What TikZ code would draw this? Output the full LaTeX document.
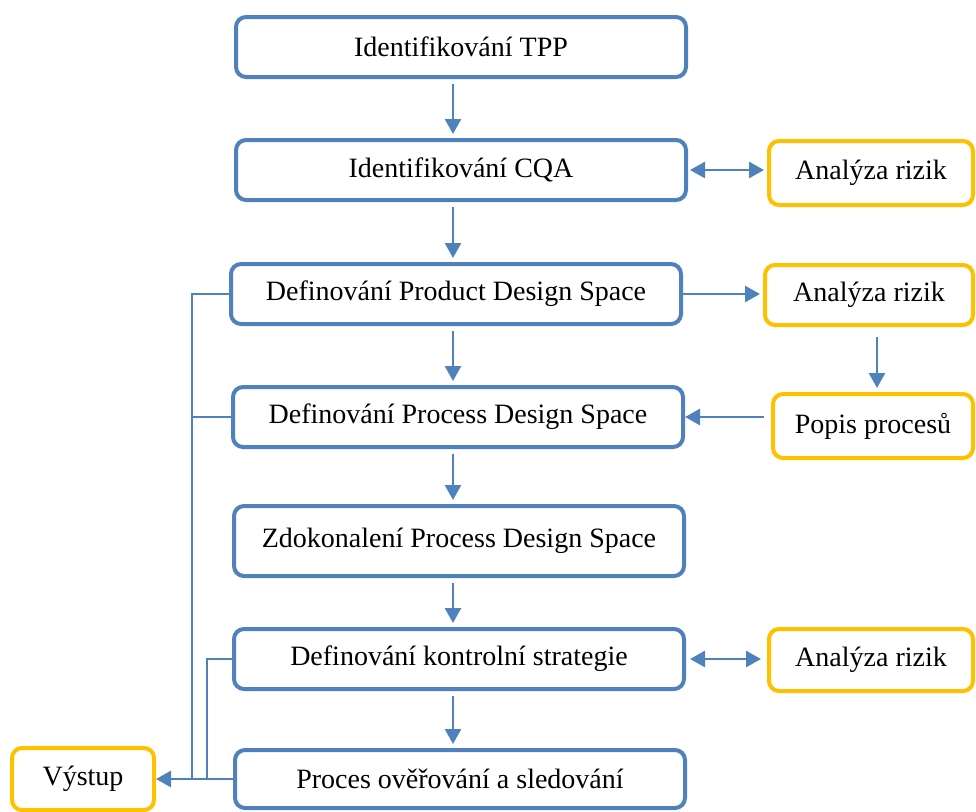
\documentclass[tikz,border=0pt]{standalone}
\usepackage{fontspec}
\setmainfont{Liberation Serif}
\usetikzlibrary{arrows.meta}
\definecolor{boxblue}{RGB}{79,129,189}
\definecolor{boxgold}{RGB}{255,192,0}

\begin{document}
\begin{tikzpicture}[x=0.5pt,y=-0.5pt,
  mainbox/.style={draw=boxblue,line width=2pt,rounded corners=5pt,minimum width=225pt,
    minimum height=30pt,inner sep=0pt,font=\fontsize{14}{16}\selectfont},
  riskbox/.style={draw=boxgold,line width=2pt,rounded corners=5pt,minimum height=32pt,
    inner sep=0pt,font=\fontsize{14}{16}\selectfont},
  link/.style={draw=boxblue,line width=1.3pt},
  arr/.style={link,-{Triangle[length=7.5pt,width=8pt]}},
  twoarr/.style={link,{Triangle[length=7.5pt,width=8pt]}-{Triangle[length=7.5pt,width=8pt]}}]
  \useasboundingbox (0,0) rectangle (976,811);
  % main chain
  \node[mainbox] (tpp) at (461,47) {Identifikování TPP};
  \node[mainbox] (cqa) at (461,170) {Identifikování CQA};
  \node[mainbox] (pds) at (456,294) {Definování Product Design Space};
  \node[mainbox] (prc) at (458,417) {Definování Process Design Space};
  \node[mainbox,minimum height=35pt] (zdk) at (459,541) {Zdokonalení Process Design Space};
  \node[mainbox] (kon) at (459,659) {Definování kontrolní strategie};
  \node[mainbox,minimum height=29pt] (ovr) at (460,779) {Proces ověřování a sledování};
  % side boxes
  \node[riskbox,minimum width=102pt] (ar1) at (871,173) {Analýza rizik};
  \node[riskbox,minimum width=104pt,minimum height=30pt] (ar2) at (869,295) {Analýza rizik};
  \node[riskbox,minimum width=100pt] (pop) at (873,426) {Popis procesů};
  \node[riskbox,minimum width=102pt,minimum height=31pt] (ar3) at (871,660) {Analýza rizik};
  \node[riskbox,minimum width=71pt,minimum height=31pt] (vys) at (83,779) {Výstup};

  \coordinate (ax) at (453,0);
  \coordinate (rail) at (192,0);
  \coordinate (rail2) at (207,0);

  \draw[arr,shorten <=2.5pt,shorten >=2pt] (tpp.south -| ax) -- (cqa.north -| ax);
  \draw[arr,shorten <=2.5pt,shorten >=2pt] (cqa.south -| ax) -- (pds.north -| ax);
  \draw[arr,shorten <=2.5pt,shorten >=2pt] (pds.south -| ax) -- (prc.north -| ax);
  \draw[arr,shorten <=2.5pt,shorten >=2pt] (prc.south -| ax) -- (zdk.north -| ax);
  \draw[arr,shorten <=2.5pt,shorten >=2pt] (zdk.south -| ax) -- (kon.north -| ax);
  \draw[arr,shorten <=2.5pt,shorten >=2pt] (kon.south -| ax) -- (ovr.north -| ax);

  \draw[twoarr,shorten <=1pt,shorten >=1.5pt] (cqa.east) -- (cqa.east -| ar1.west);
  \draw[arr,shorten >=1.5pt] (pds.east) -- (pds.east -| ar2.west);
  \draw[arr,shorten <=5pt,shorten >=2pt] ([xshift=4pt]ar2.south) -- ([xshift=4pt]ar2.south |- pop.north);
  \draw[arr,shorten <=3.5pt] (pop.west |- prc.east) -- (prc.east);
  \draw[twoarr,shorten <=2pt,shorten >=3pt] (kon.east) -- (kon.east -| ar3.west);

  % output lines on the left
  \draw[link] (pds.west) -- (pds.west -| rail) -- (rail |- vys.east);
  \draw[link] (prc.west) -- (prc.west -| rail);
  \draw[link] (kon.west) -- (kon.west -| rail2) -- (rail2 |- vys.east);
  \draw[arr] (ovr.west) -- (vys.east);
\end{tikzpicture}
\end{document}
